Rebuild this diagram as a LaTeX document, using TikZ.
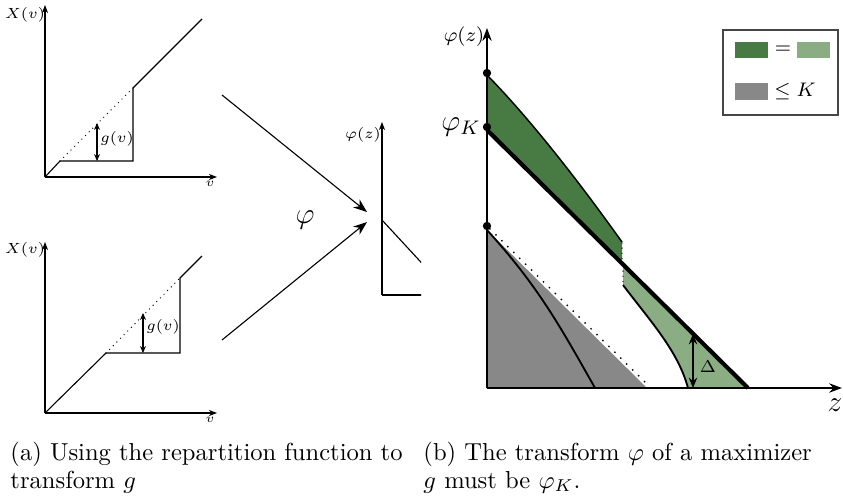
\documentclass[tikz,border=0pt]{standalone}
\usetikzlibrary{arrows.meta}
\definecolor{dgreen}{RGB}{72,122,68}
\definecolor{lgreen}{RGB}{138,173,132}
\definecolor{fgray}{RGB}{136,136,136}
\definecolor{boxgray}{RGB}{70,70,70}
\begin{document}
\begin{tikzpicture}[x=0.407pt,y=-0.407pt,
  thinplot/.style={line width=0.45pt},
  smallaxis/.style={line width=0.45pt,-{Stealth[length=3.3pt,width=2.5pt]}},
  bigaxis/.style={line width=0.85pt,-{Stealth[length=5.2pt,width=3.8pt]}},
  maparrow/.style={line width=0.45pt,-{Stealth[length=5.6pt,width=4.2pt]}},
  dblarrow/.style={line width=0.55pt,{Stealth[length=2.8pt,width=2.4pt]}-{Stealth[length=2.8pt,width=2.4pt]}},
  bigdbl/.style={line width=0.75pt,{Stealth[length=4.2pt,width=3.4pt]}-{Stealth[length=4.2pt,width=3.4pt]}},
  dotline/.style={line width=0.55pt,dash pattern=on 0pt off 2.1pt,line cap=round},
  sparsedot/.style={line width=0.8pt,dash pattern=on 0pt off 3.4pt,line cap=round},
  curve/.style={line width=0.75pt},
  thickline/.style={line width=1.7pt},
  lbl/.style={inner sep=0pt},
  pt/.style={circle,fill=black,inner sep=0pt,minimum size=3.4pt}
]
\useasboundingbox (0,0) rectangle (843,502);

% ---------- top-left plot ----------
\coordinate (ta) at (45,177);
\draw[smallaxis] (ta) -- (45,5);
\draw[smallaxis] (ta) -- (217,177);
\draw[thinplot] (ta) -- (60,161) -- (133,161) -- (133,88) -- (202,19);
\draw[dotline] (60,161) -- (133,88);
\draw[dblarrow] (97,123) -- (97,161);
\node[lbl,font=\fontsize{6}{7}\selectfont] (tX) at (25,15) {$X(v)$};
\node[lbl,font=\fontsize{6.2}{7}\selectfont] (tg) at (117,139) {$g(v)$};
\node[lbl,font=\fontsize{5.5}{6}\selectfont] (tv) at (210,184) {$v$};

% ---------- bottom-left plot ----------
\coordinate (ba) at (45,413);
\draw[smallaxis] (ba) -- (45,242);
\draw[smallaxis] (ba) -- (217,413);
\draw[thinplot] (ba) -- (106,353) -- (180,353) -- (180,278) -- (202,256);
\draw[dotline] (106,353) -- (180,278);
\draw[dblarrow] (143,313) -- (143,353);
\node[lbl,font=\fontsize{6}{7}\selectfont] (bX) at (25,250) {$X(v)$};
\node[lbl,font=\fontsize{6.2}{7}\selectfont] (bg) at (163,327) {$g(v)$};
\node[lbl,font=\fontsize{5.5}{6}\selectfont] (bv) at (210,420) {$v$};

% ---------- mapping arrows ----------
\coordinate (m1s) at (222,95);
\coordinate (m1e) at (367,212);
\coordinate (m2s) at (222,340);
\coordinate (m2e) at (367,222);
\draw[maparrow] (m1s) -- (m1e);
\draw[maparrow] (m2s) -- (m2e);
\node[lbl,font=\fontsize{12.5}{14}\selectfont] (phimap) at (305,220) {$\varphi$};

% ---------- small phi plot (clipped) ----------
\begin{scope}
\clip (340,100) rectangle (421,320);
\draw[smallaxis] (382,295) -- (382,122);
\draw[thinplot] (382,295) -- (430,295);
\draw[thinplot] (382,220) -- (430,272);
\end{scope}
\node[lbl,font=\fontsize{6}{7}\selectfont] (sphi) at (363,135) {$\varphi(z)$};

% ---------- right plot ----------
% gray region
\fill[fgray] (487,230) -- (647,388) -- (487,388) -- cycle;
\draw[sparsedot] (490,229) -- (650,387);
\draw[curve] (487,230) .. controls (538,286) and (560,326) .. (595,388);
% dark green region
\fill[dgreen] (487,75) -- (487,130) -- (622,263.4) -- (622,242)
   .. controls (582,186) and (533,122) .. (487,75) -- cycle;
\draw[line width=0.6pt] (487,75) .. controls (533,122) and (582,186) .. (622,242);
\draw[dotline] (622,243) -- (622,262);
% light green region
\fill[lgreen] (623,264.4) -- (623,285) .. controls (651,322) and (678,351) .. (688,388)
   -- (748,388) -- cycle;
\draw[curve] (623,285) .. controls (651,322) and (678,351) .. (688,388);
\draw[dotline] (623,266) -- (623,285);
% thick line
\draw[thickline] (487,130) -- (748,388);
% axes
\coordinate (ro) at (487,388);
\draw[bigaxis] (ro) -- (487,28);
\draw[bigaxis] (ro) -- (842,388);
% dots
\node[pt] (d1) at (487,73) {};
\node[pt] (d2) at (487,127) {};
\node[pt] (d3) at (487,226) {};
% delta
\draw[bigdbl] (693,334) -- (693,388);
\node[lbl,font=\fontsize{7.5}{9}\selectfont] (delta) at (708,367) {$\Delta$};
% labels
\node[lbl,font=\fontsize{8.4}{10}\selectfont] (rphi) at (464,37) {$\varphi(z)$};
\node[lbl,font=\fontsize{11.5}{13}\selectfont] (phiK) at (461,127) {$\varphi_K$};
\node[lbl,font=\fontsize{11.5}{13}\selectfont] (zl) at (835,405) {$z$};

% legend
\draw[boxgray,line width=0.6pt] (723,30) rectangle (838,115);
\fill[dgreen] (735,42) rectangle (768,58);
\node[lbl,font=\fontsize{7.8}{9}\selectfont] (eq) at (783,50) {$=$};
\fill[lgreen] (797,42) rectangle (830,58);
\fill[fgray] (735,83) rectangle (768,100);
\node[lbl,font=\fontsize{7.6}{9}\selectfont,anchor=west] (leK) at (774,91) {$\leq K$};

% ---------- captions ----------
\node[lbl,anchor=base west] (capa1) at (10,460) {(a) Using the repartition function to};
\node[lbl,anchor=base west] (capa2) at (10,488) {transform $g$};
\node[lbl,anchor=base west] (capb1) at (423,460) {(b) The transform $\varphi$ of a maximizer};
\node[lbl,anchor=base west] (capb2) at (423,488) {$g$ must be $\varphi_K$.};
\end{tikzpicture}
\end{document}
